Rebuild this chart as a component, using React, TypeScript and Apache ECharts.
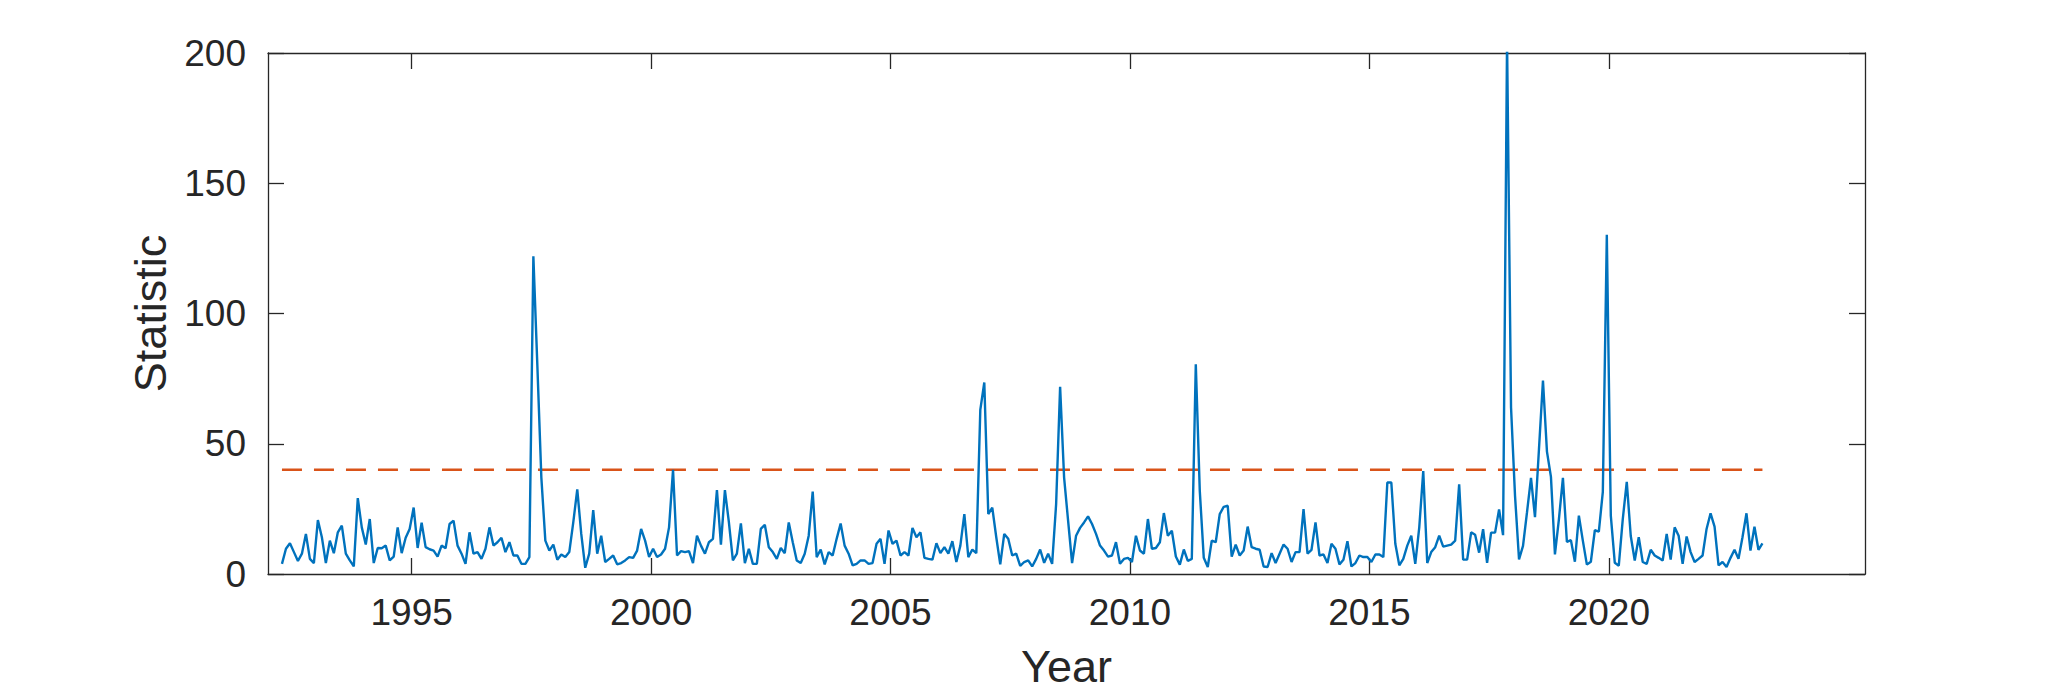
import React, { useEffect, useRef } from "react";
import * as echarts from "echarts";

// Monthly statistic, first sample mid-April 1992
const startYear = 1992;
const startMonth = 4; // April

const stat1992to1996 = [
  3.9, 9.7, 11.8, 8.4, 5.0, 7.8, 15.4, 5.8, 4.2, 20.7,
  14.1, 4.2, 12.8, 8.0, 16.0, 18.6, 7.8, 5.2, 2.9, 29.1,
  17.9, 11.3, 21.1, 4.2, 10.0, 9.9, 10.9, 5.2, 6.7, 17.9,
  8.0, 13.9, 17.3, 25.5, 10.0, 19.7, 10.3, 9.5, 9.0, 6.7,
  10.9, 9.9, 19.2, 20.5, 10.9, 7.8, 3.9,
];
const stat1996to2000 = [
  16.0, 7.8, 8.4, 5.8, 9.7, 17.9, 10.9, 12.2, 13.9, 8.4,
  12.2, 7.1, 7.1, 3.9, 3.9, 6.5, 122, 80, 37, 12.8,
  9.0, 11.3, 5.5, 7.5, 6.5, 8.4, 19.8, 32.5, 15.4, 2.4,
  7.8, 24.5, 7.8, 14.7, 4.6, 5.8, 7.1, 3.7, 4.2, 5.2,
  6.5, 6.2, 9.0, 17.3, 12.8, 6.5, 9.7, 6.5, 7.5, 9.7,
];
const stat2000to2004 = [
  17.9, 40, 7.1, 8.8, 8.4, 8.8, 4.2, 14.7, 10.9, 7.8,
  12.2, 13.5, 32.2, 11.3, 32.2, 19.8, 5.2, 7.8, 19.4, 4.2,
  9.7, 3.9, 3.9, 17.3, 18.9, 10.3, 8.4, 5.8, 10.0, 8.0,
  19.8, 12.2, 5.2, 4.2, 7.8, 14.7, 31.6, 6.5, 9.4, 3.7,
  8.4, 7.1, 13.5, 19.4, 10.9, 7.8, 3.3, 3.9, 5.2,
];
const stat2004to2007 = [
  5.2, 3.9, 4.2, 11.6, 13.5, 3.9, 16.7, 11.6, 12.8, 7.1,
  8.4, 7.1, 17.7, 14.1, 16.0, 6.2, 5.8, 5.5, 11.8, 8.0,
  10.3, 7.8, 12.6, 4.6, 10.9, 23.0, 6.5, 9.4, 8.0,
];
const stat2007to2012 = [
  63.0, 73.5, 23.0, 25.5, 14.1, 3.7, 15.4, 13.5, 7.1, 7.8,
  3.1, 4.6, 5.2, 2.9, 5.8, 9.4, 4.3, 7.8, 3.9, 26.8,
  71.9, 37.0, 20.5, 4.2, 14.7, 17.7, 19.8, 22.1, 19.2, 15.4,
  10.9, 9.0, 6.7, 7.1, 12.2, 3.9, 5.8, 6.2, 4.6, 14.7,
  9.0, 7.8, 21.1, 9.7, 10.0, 12.2, 23.4, 14.7, 16.6, 6.7,
  3.6, 9.4, 5.0, 5.8, 80.5, 31.9, 6.2, 2.7, 12.8, 12.2,
  23.0,
];
const stat2012to2017 = [
  25.8, 26.2, 6.7, 11.3, 7.1, 9.0, 18.2, 10.3, 9.7, 9.3,
  2.9, 2.7, 8.0, 4.2, 7.8, 11.3, 9.7, 4.6, 8.4, 8.4,
  24.9, 7.8, 9.3, 19.8, 7.1, 7.5, 4.2, 11.6, 9.7, 3.7,
  5.5, 12.6, 2.9, 4.2, 7.1, 6.5, 6.5, 4.6, 7.5, 7.5,
  6.5, 35.1, 35.1, 11.6, 3.3, 5.8, 10.9, 14.7, 3.9, 17.9,
  39.5, 4.2, 8.4, 10.3, 14.7, 10.5, 10.9, 11.3, 12.8, 34.4,
  5.5, 5.5, 16.0, 15.1,
];
const stat2017to2020 = [
  8.2, 17.2, 4.3, 15.9, 15.9, 24.8, 14.9, 205, 63.9, 30,
  5.6, 10.8, 23.7, 36.9, 21.8, 48, 74.3, 47.0, 37.3, 7.5,
  21.1, 36.9, 12.3, 13.0, 4.7, 22.4, 12.7, 3.6, 4.7, 16.8,
  16.3, 31.5, 130.2, 22.4, 4.3, 3.2, 21.1, 35.4, 14.6, 5.2,
  14.1, 4.6,
];
const stat2020to2023 = [
  3.9, 9.3, 7.1, 6.2, 5.2, 15.4, 5.5, 17.9, 14.7, 3.9,
  14.4, 8.4, 4.6, 5.8, 7.1, 17.3, 23.3, 18.2, 3.3, 4.6,
  2.7, 6.2, 9.3, 5.8, 14.1, 23.3, 9.0, 18.2, 9.3, 11.8,
];

const threshold = 40;
const yearTicks = [1995, 2000, 2005, 2010, 2015, 2020];
const statTicks = [0, 50, 100, 150, 200];

const statistic = [
  ...stat1992to1996,
  ...stat1996to2000,
  ...stat2000to2004,
  ...stat2004to2007,
  ...stat2007to2012,
  ...stat2012to2017,
  ...stat2017to2020,
  ...stat2020to2023,
];

const t0 = startYear + (startMonth - 0.5) / 12;
const times = statistic.map((_, i) => t0 + i / 12);

const AX = "#262626";
const FONT = "Liberation Sans, Arial, Helvetica, sans-serif";

export default function App() {
  const ref = useRef<HTMLDivElement>(null);
  useEffect(() => {
    if (!ref.current) return;
    const chart = echarts.init(ref.current, undefined, { renderer: "svg" });
    const xBase = {
      type: "value" as const,
      min: 1992,
      max: 2025.35,
      splitLine: { show: false },
      axisLine: { show: true, onZero: false, lineStyle: { color: AX, width: 1.3 } },
      axisTick: {
        show: true,
        inside: true,
        length: 16,
        customValues: yearTicks,
        lineStyle: { color: AX, width: 1.3 },
      },
    };
    const yBase = {
      type: "value" as const,
      min: 0,
      max: 200,
      interval: 50,
      splitLine: { show: false },
      axisLine: { show: true, onZero: false, lineStyle: { color: AX, width: 1.3 } },
      axisTick: { show: true, inside: true, length: 16, lineStyle: { color: AX, width: 1.3 } },
    };
    chart.setOption({
      animation: false,
      backgroundColor: "#ffffff",
      textStyle: { fontFamily: FONT },
      grid: { left: 268, right: 196, top: 53, bottom: 117, containLabel: false },
      xAxis: [
        {
          ...xBase,
          position: "bottom",
          name: "Year",
          nameLocation: "middle",
          nameGap: 70,
          nameTextStyle: { fontSize: 45, color: AX, fontFamily: FONT },
          axisLabel: {
            show: true,
            customValues: yearTicks,
            formatter: (v: number) => String(Math.round(v)),
            fontSize: 37,
            color: AX,
            margin: 20,
            fontFamily: FONT,
          },
        },
        { ...xBase, position: "top", axisLabel: { show: false } },
      ],
      yAxis: [
        {
          ...yBase,
          position: "left",
          name: "Statistic",
          nameLocation: "middle",
          nameGap: 80,
          nameTextStyle: { fontSize: 45, color: AX, fontFamily: FONT },
          axisLabel: {
            show: true,
            fontSize: 37,
            color: AX,
            margin: 22,
            fontFamily: FONT,
            customValues: statTicks,
            formatter: (v: number) => String(Math.round(v)),
          },
        },
        { ...yBase, position: "right", axisLabel: { show: false } },
      ],
      series: [
        {
          type: "line",
          xAxisIndex: 0,
          yAxisIndex: 0,
          data: statistic.map((v, i) => [times[i], v]),
          showSymbol: false,
          clip: true,
          lineStyle: { color: "#0072BD", width: 2.4 },
          itemStyle: { color: "#0072BD" },
          z: 3,
        },
        {
          type: "line",
          xAxisIndex: 0,
          yAxisIndex: 0,
          data: [
            [times[0], threshold],
            [times[times.length - 1], threshold],
          ],
          showSymbol: false,
          lineStyle: { color: "#D95319", width: 2.4, type: [20, 12] },
          itemStyle: { color: "#D95319" },
          z: 2,
        },
      ],
    });
    return () => chart.dispose();
  }, []);
  return (
    <div
      ref={ref}
      style={{ position: "absolute", left: 0, top: 0, width: 2061, height: 694, background: "#fff" }}
    />
  );
}
